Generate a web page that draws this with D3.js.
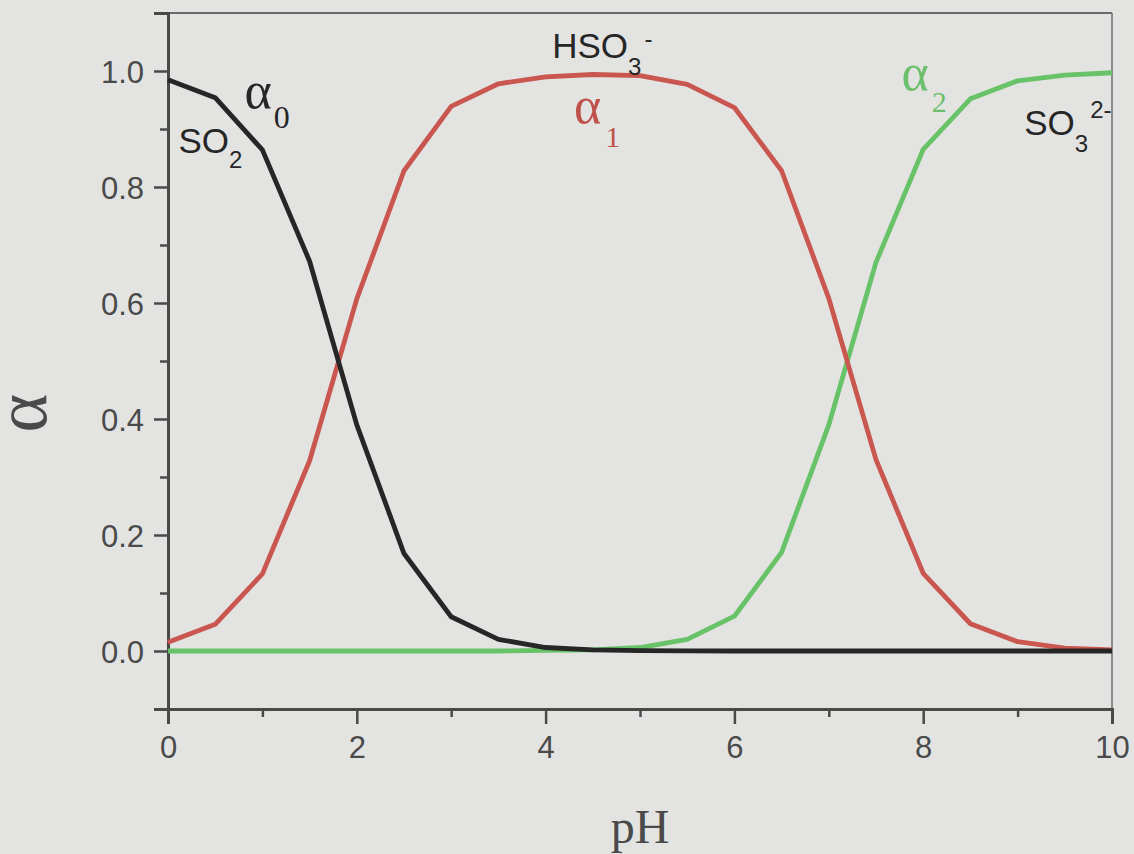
<!DOCTYPE html>
<html>
<head>
<meta charset="utf-8">
<script src="https://cdn.jsdelivr.net/npm/d3@7"></script>
<style>
  body { margin: 0; background: #e3e4e2; }
  svg { display: block; }
</style>
</head>
<body>
<svg id="chart" width="1134" height="854"></svg>
<script>
// pH values (every 0.5)
var ph = [0,0.5,1,1.5,2,2.5,3,3.5,4,4.5,5,5.5,6,6.5,7,7.5,8,8.5,9,9.5,10];
// alpha0 : SO2
var alpha0 = [0.985,0.954,0.864,0.672,0.39,0.168,0.059,0.02,0.006,0.002,0.0006,0.0002,0,0,0,0,0,0,0,0,0];
// alpha1 : HSO3-
var alpha1 = [0.015,0.046,0.133,0.328,0.607,0.828,0.939,0.978,0.99,0.994,0.992,0.977,0.937,0.828,0.608,0.33,0.134,0.047,0.016,0.005,0.002];
// alpha2 : SO3 2-
var alpha2 = [0,0,0,0,0,0,0,0,0.001,0.002,0.006,0.02,0.06,0.17,0.39,0.67,0.865,0.952,0.983,0.993,0.997];

var xMajor = [0,2,4,6,8,10];
var xMinor = [1,3,5,7,9];
var yMajor = [0,0.2,0.4,0.6,0.8,1.0];
var yMinor = [0.1,0.3,0.5,0.7,0.9];

var margin = { left: 168, top: 13, right: 22, bottom: 145 };
var width = 1134 - margin.left - margin.right;
var height = 854 - margin.top - margin.bottom;

var svg = d3.select('#chart');
var x = d3.scaleLinear().domain([0, 10]).range([0, width]);
var y = d3.scaleLinear().domain([-0.1, 1.1]).range([height, 0]);

var g = svg.append("g")
    .attr("transform", "translate(" + margin.left + "," + margin.top + ")");

g.append("clipPath").attr("id", "plotclip")
  .append("rect").attr("x", -2).attr("y", -30).attr("width", width + 2).attr("height", height + 32);

// top + right frame
g.append("line").attr("x1", 0).attr("x2", width).attr("y1", 0).attr("y2", 0)
    .attr("stroke", "#6a6a6a").attr("stroke-width", 2);
g.append("line").attr("x1", width).attr("x2", width).attr("y1", 0).attr("y2", height)
    .attr("stroke", "#8a8a8a").attr("stroke-width", 2);

var axisColor = "#4b4848";
var tickFont = "Liberation Sans, Arial, sans-serif";

function styleAxis(sel) {
  sel.select(".domain").attr("stroke", axisColor).attr("stroke-width", 3);
  sel.selectAll(".tick line").attr("stroke", axisColor).attr("stroke-width", 2.5);
  sel.selectAll(".tick text").attr("fill", "#4a4a4a")
      .style("font-family", tickFont).style("font-size", "31px");
}

// minor ticks
g.append("g").attr("transform", "translate(0," + height + ")")
  .call(d3.axisBottom(x).tickValues(xMinor).tickSize(8).tickFormat(""))
  .call(styleAxis);
g.append("g")
  .call(d3.axisLeft(y).tickValues(yMinor).tickSize(8).tickFormat(""))
  .call(styleAxis);

// major ticks
g.append("g").attr("transform", "translate(0," + height + ")")
  .call(d3.axisBottom(x).tickValues(xMajor).tickSize(15).tickPadding(12).tickFormat(d3.format("d")))
  .call(styleAxis);
g.append("g")
  .call(d3.axisLeft(y).tickValues(yMajor).tickSize(14).tickPadding(10).tickFormat(d3.format(".1f")))
  .call(styleAxis)
  .selectAll(".tick text").attr("dy", "0.36em");

// curves
var series = [
  { vals: alpha0, color: "#262626" },
  { vals: alpha1, color: "#c9574f" },
  { vals: alpha2, color: "#68c267" }
];
var line = d3.line()
    .x(function(d) { return x(d[0]); })
    .y(function(d) { return y(d[1]); });

// green drawn first so the black/red lie on top of the flat parts
[series[2], series[1], series[0]].forEach(function(s) {
  g.append("path")
    .datum(ph.map(function(p, i) { return [p, s.vals[i]]; }))
    .attr("fill", "none")
    .attr("stroke", s.color)
    .attr("stroke-width", 4.8)
    .attr("stroke-linejoin", "round")
    .attr("d", line);
});

// annotations
var serif = "Liberation Serif, Times New Roman, serif";
var sans = "Liberation Sans, Arial, sans-serif";
var ann = g.append("g").attr("clip-path", "url(#plotclip)");

function label(px, py, color, font, size, parts) {
  var t = ann.append("text")
      .attr("x", x(px)).attr("y", y(py))
      .attr("fill", color)
      .style("font-family", font)
      .style("font-size", size + "px");
  parts.forEach(function(p) {
    var ts = t.append("tspan").text(p.t);
    if (p.dy) ts.attr("dy", p.dy);
    if (p.dx) ts.attr("dx", p.dx);
    if (p.size) ts.style("font-size", p.size + "px");
  });
}

label(0.81, 0.936, "#262626", serif, 52, [{ t: "α" }, { t: "0", dy: 20, dx: 2, size: 32 }]);
label(0.11, 0.859, "#262626", sans, 35, [{ t: "SO" }, { t: "2", dy: 15, size: 24 }]);
label(4.07, 1.022, "#262626", sans, 35, [{ t: "HSO" }, { t: "3", dy: 17, size: 24 }, { t: "-", dy: -28, dx: 3, size: 24 }]);
label(4.3, 0.91, "#c0504a", serif, 52, [{ t: "α" }, { t: "1", dy: 24, dx: 4, size: 30 }]);
label(7.77, 0.967, "#6cbf6c", serif, 52, [{ t: "α" }, { t: "2", dy: 22, dx: 3, size: 30 }]);
label(9.07, 0.89, "#262626", sans, 35, [{ t: "SO" }, { t: "3", dy: 17, size: 24 }, { t: "2-", dy: -34, dx: 2, size: 24 }]);

// axis titles
svg.append("text")
    .attr("x", margin.left + x(5))
    .attr("y", 843)
    .attr("text-anchor", "middle")
    .attr("fill", "#4a4a4a")
    .style("font-family", serif)
    .style("font-size", "48px")
    .text("pH");

svg.append("text")
    .attr("transform", "translate(46,413) rotate(-90)")
    .attr("text-anchor", "middle")
    .attr("fill", "#4a4a4a")
    .style("font-family", serif)
    .style("font-size", "74px")
    .text("α");
</script>
</body>
</html>
